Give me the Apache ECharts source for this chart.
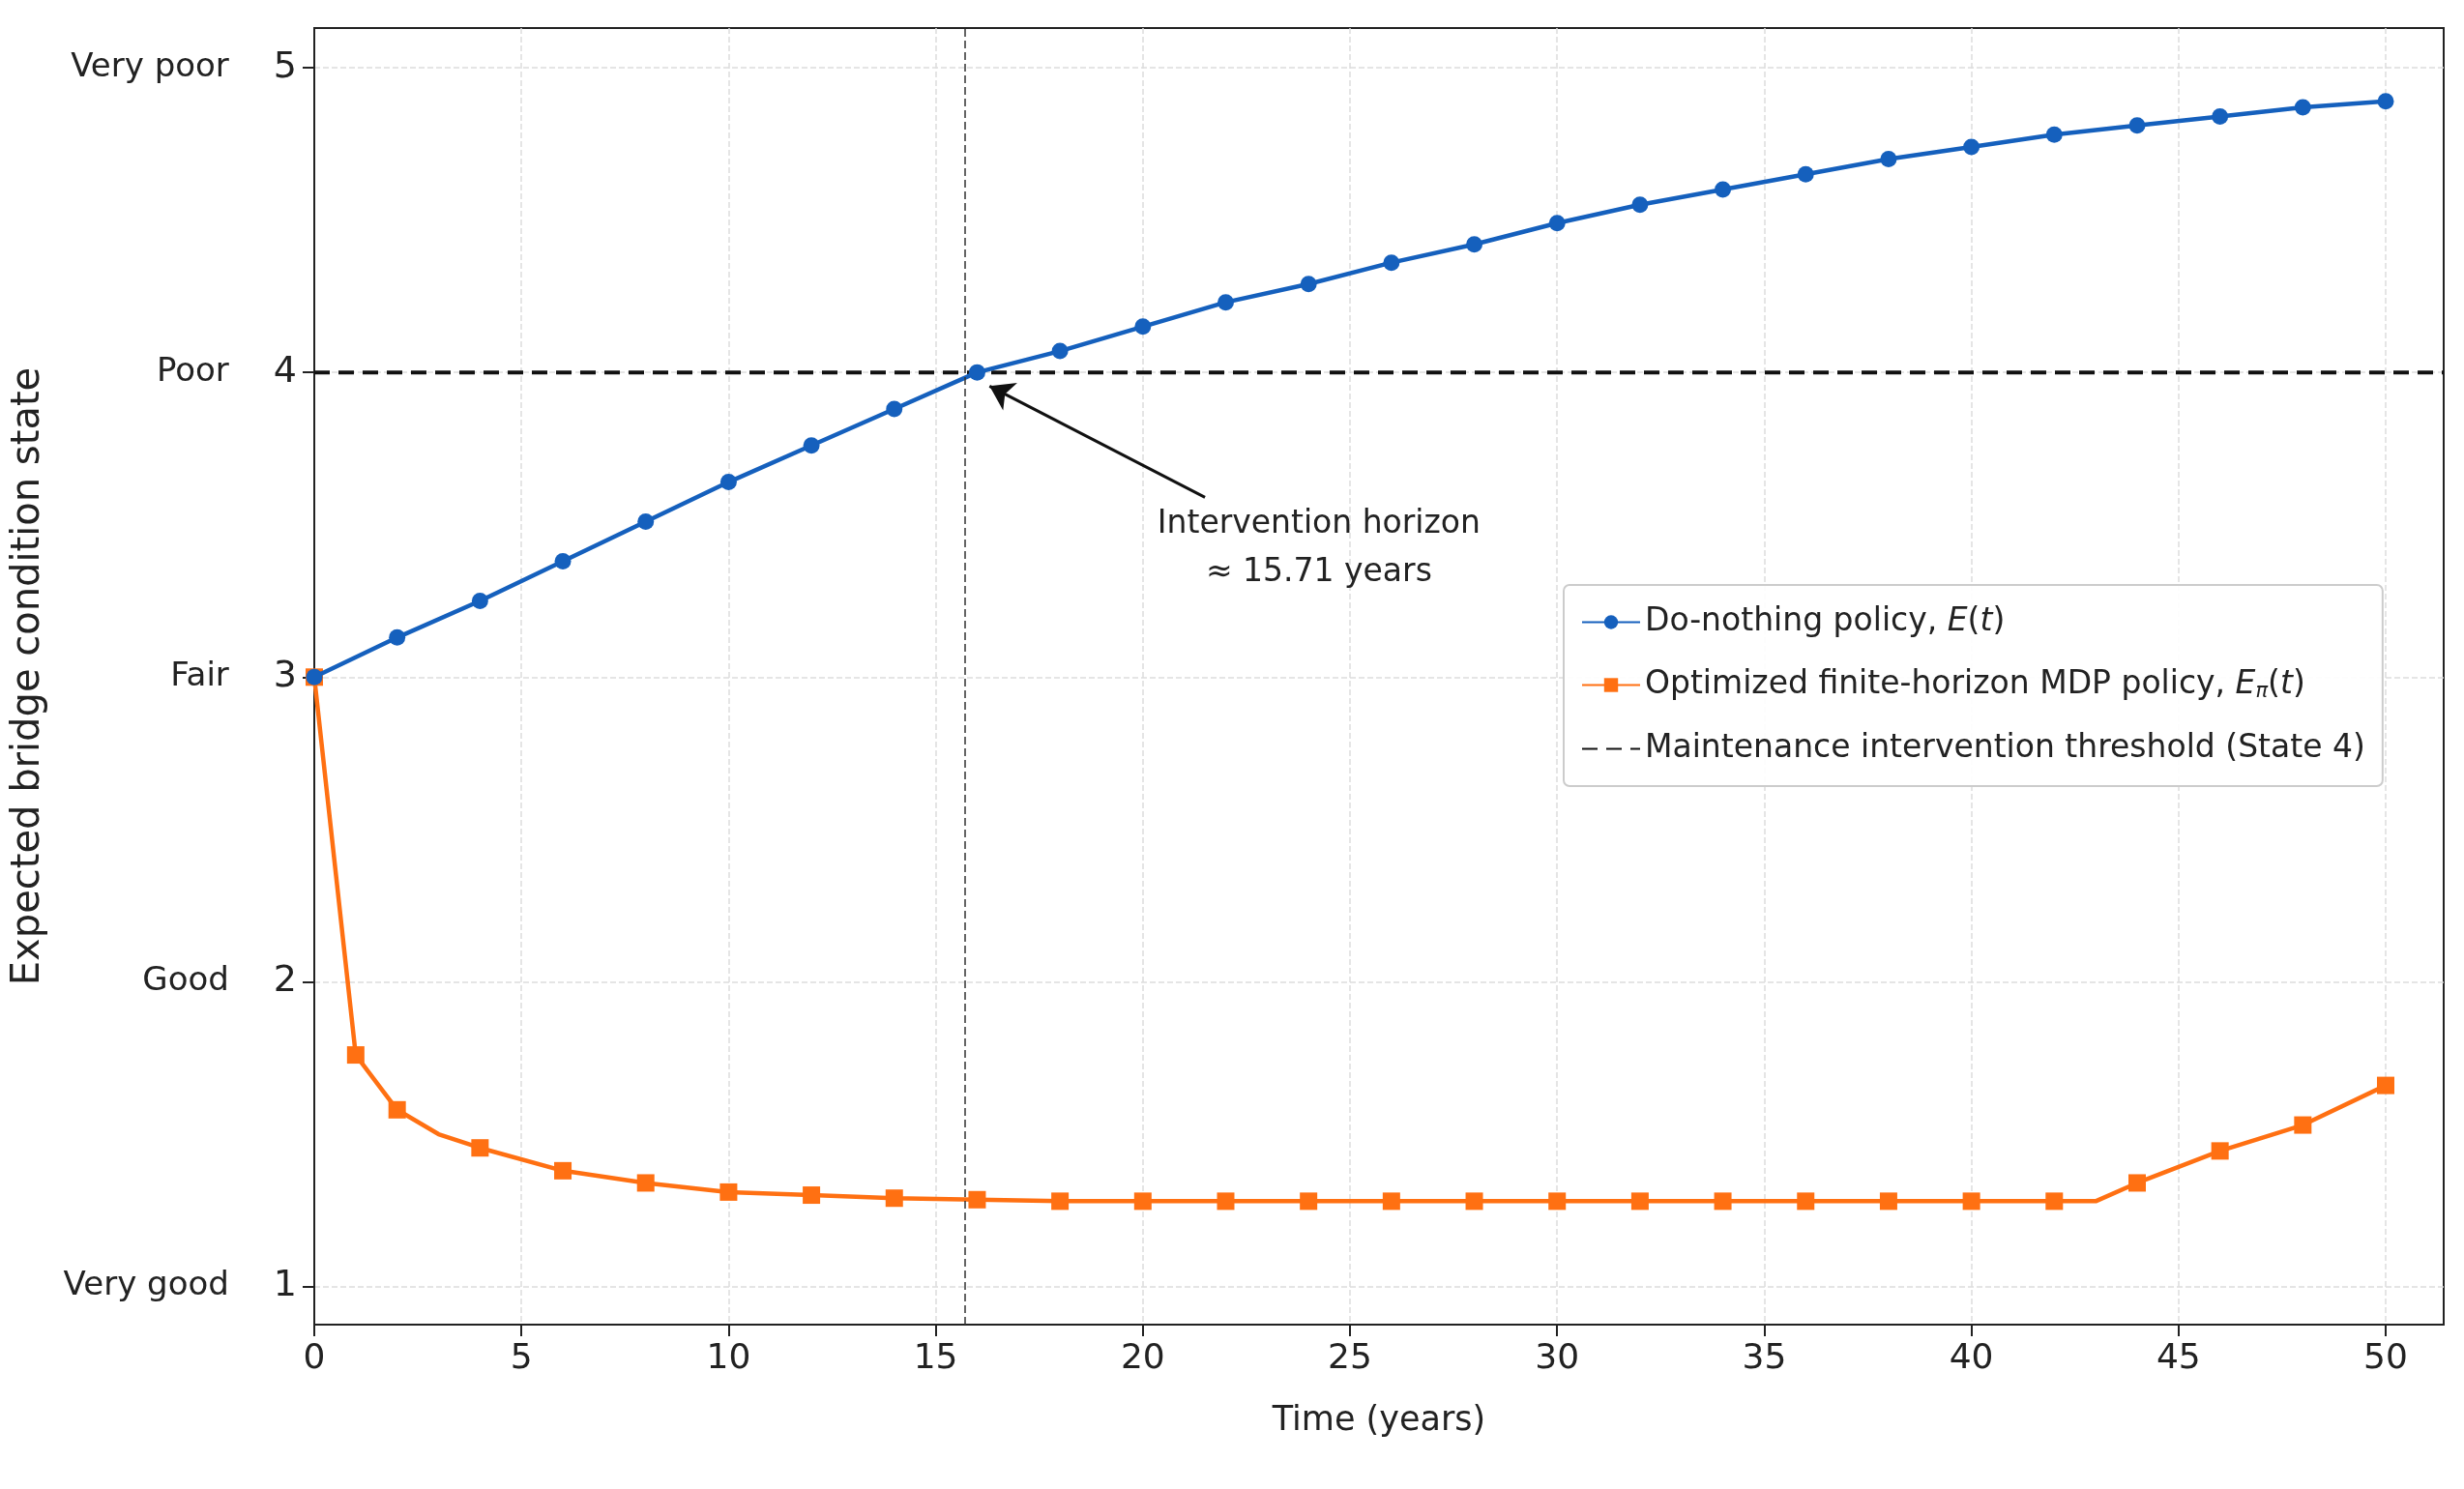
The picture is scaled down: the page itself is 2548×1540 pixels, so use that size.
<!DOCTYPE html>
<html>
<head>
<meta charset="utf-8">
<script src="https://cdn.jsdelivr.net/npm/echarts@6/dist/echarts.min.js"></script>
<style>html,body{margin:0;padding:0;background:#fff}#chart{width:2548px;height:1540px}</style>
</head>
<body>
<div id="chart"></div>
<script>
// do-nothing policy, every 2 years
var blueT = [0,2,4,6,8,10,12,14,16,18,20,22,24,26,28,30,32,34,36,38,40,42,44,46,48,50];
var blueV = [3.0,3.13,3.25,3.38,3.51,3.64,3.76,3.88,4.0,4.07,4.15,4.23,4.29,4.36,4.42,4.49,4.55,4.6,4.65,4.7,4.74,4.78,4.81,4.84,4.87,4.89];
// optimized MDP policy
var orangeT = [0,1,2,3,4,6,8,10,12,14,16,18,20,22,24,26,28,30,32,34,36,38,40,42,43,44,46,48,50];
var orangeV = [3.0,1.76,1.58,1.5,1.455,1.38,1.34,1.31,1.3,1.29,1.285,1.28,1.28,1.28,1.28,1.28,1.28,1.28,1.28,1.28,1.28,1.28,1.28,1.28,1.28,1.34,1.445,1.53,1.66];
var orangeNoMark = [3,43];
var stateNames = {1:'Very good',2:'Good',3:'Fair',4:'Poor',5:'Very poor'};
var yTicks = [1,2,3,4,5];
var xTicks = [0,5,10,15,20,25,30,35,40,45,50];
var threshold = 4;
var horizon = 15.71;

var font = 'DejaVu Sans';
var chart = echarts.init(document.getElementById('chart'));

var blueData = blueT.map(function(t, i) { return [t, blueV[i]]; });
var orangeData = orangeT.map(function(t, i) {
	if (orangeNoMark.indexOf(t) >= 0) return {value: [t, orangeV[i]], symbolSize: 0};
	return [t, orangeV[i]];
});

var option = {
	backgroundColor: '#fff',
	animation: false,
	grid: {left: 325, right: 21, top: 29, bottom: 170, show: true, borderColor: '#222', borderWidth: 2},
	legend: {
		left: 1617, top: 605, orient: 'vertical',
		itemWidth: 60, itemHeight: 18, itemGap: 32,
		padding: [22, 18, 22, 18],
		borderColor: '#ccc', borderWidth: 2, borderRadius: 6,
		backgroundColor: 'rgba(255,255,255,0.9)',
		textStyle: {fontFamily: font, fontSize: 33, color: '#222',
			rich: {i: {fontFamily: font, fontSize: 33, fontStyle: 'italic'}, s: {fontFamily: font, fontSize: 21, fontStyle: 'italic', verticalAlign: 'bottom', padding: [14,0,0,0]}}},
		formatter: function(n) {
			if (n === 'do') return 'Do-nothing policy, {i|E}({i|t})';
			if (n === 'opt') return 'Optimized finite-horizon MDP policy, {i|E}{s|π}({i|t})';
			return 'Maintenance intervention threshold (State 4)';
		},
		data: ['do', 'opt', 'thr']
	},
	xAxis: {
		type: 'value', min: 0, max: 51.4,
		name: 'Time (years)', nameLocation: 'middle', nameGap: 82,
		nameTextStyle: {fontFamily: font, fontSize: 35, color: '#222'},
		axisLine: {lineStyle: {color: '#222', width: 2}},
		axisTick: {show: true, length: 12, lineStyle: {color: '#222', width: 2}, customValues: xTicks},
		axisLabel: {fontFamily: font, fontSize: 36, color: '#222', margin: 18, customValues: xTicks},
		splitLine: {show: true, lineStyle: {color: '#ddd', type: 'dashed', width: 1.5}}
	},
	yAxis: {
		type: 'value', min: 0.875, max: 5.13,
		name: 'Expected bridge condition state', nameLocation: 'middle', nameGap: 275,
		nameTextStyle: {fontFamily: font, fontSize: 40, color: '#222'},
		axisLine: {show: true, lineStyle: {color: '#222', width: 2}},
		axisTick: {show: true, length: 12, lineStyle: {color: '#222', width: 2}, customValues: yTicks},
		axisLabel: {
			customValues: yTicks, margin: 18, color: '#222',
			formatter: function(v) { return '{n|' + stateNames[v] + '}{v|' + v + '}'; },
			rich: {n: {fontFamily: font, fontSize: 34, color: '#222', padding: [0, 46, 0, 0]},
				v: {fontFamily: font, fontSize: 38, color: '#222'}}
		},
		splitLine: {show: true, lineStyle: {color: '#ddd', type: 'dashed', width: 1.5}}
	},
	series: [{
		name: 'do', type: 'line', data: blueData,
		symbol: 'circle', symbolSize: 17,
		itemStyle: {color: '#1560bd'}, lineStyle: {color: '#1560bd', width: 4.5},
		z: 4,
		markLine: {
			silent: true, symbol: ['none', 'arrow'], symbolSize: 24,
			lineStyle: {color: '#111', type: 'solid', width: 3},
			label: {show: false},
			data: [[{coord: [21.5, 3.59]}, {coord: [16.3, 3.955]}]]
		},
		markPoint: {
			silent: true, symbol: 'circle', symbolSize: 0,
			label: {show: true, fontFamily: font, fontSize: 33, color: '#222', lineHeight: 50, align: 'center',
				formatter: 'Intervention horizon\n≈ 15.71 years'},
			data: [{coord: [24.25, 3.42]}]
		}
	}, {
		name: 'opt', type: 'line', data: orangeData,
		symbol: 'rect', symbolSize: 18,
		itemStyle: {color: '#ff7012'}, lineStyle: {color: '#ff7012', width: 4.5},
		z: 3
	}, {
		name: 'thr', type: 'line', data: [[0, threshold], [51.4, threshold]],
		symbol: 'none', itemStyle: {color: '#111', opacity: 0},
		lineStyle: {color: '#111', type: [16, 9], width: 4},
		z: 2,
		markLine: {
			silent: true, symbol: 'none', label: {show: false},
			lineStyle: {color: '#333', type: [8, 4], width: 1.5, opacity: 1},
			data: [{xAxis: horizon}]
		}
	}]
};
chart.setOption(option);
</script>
</body>
</html>
